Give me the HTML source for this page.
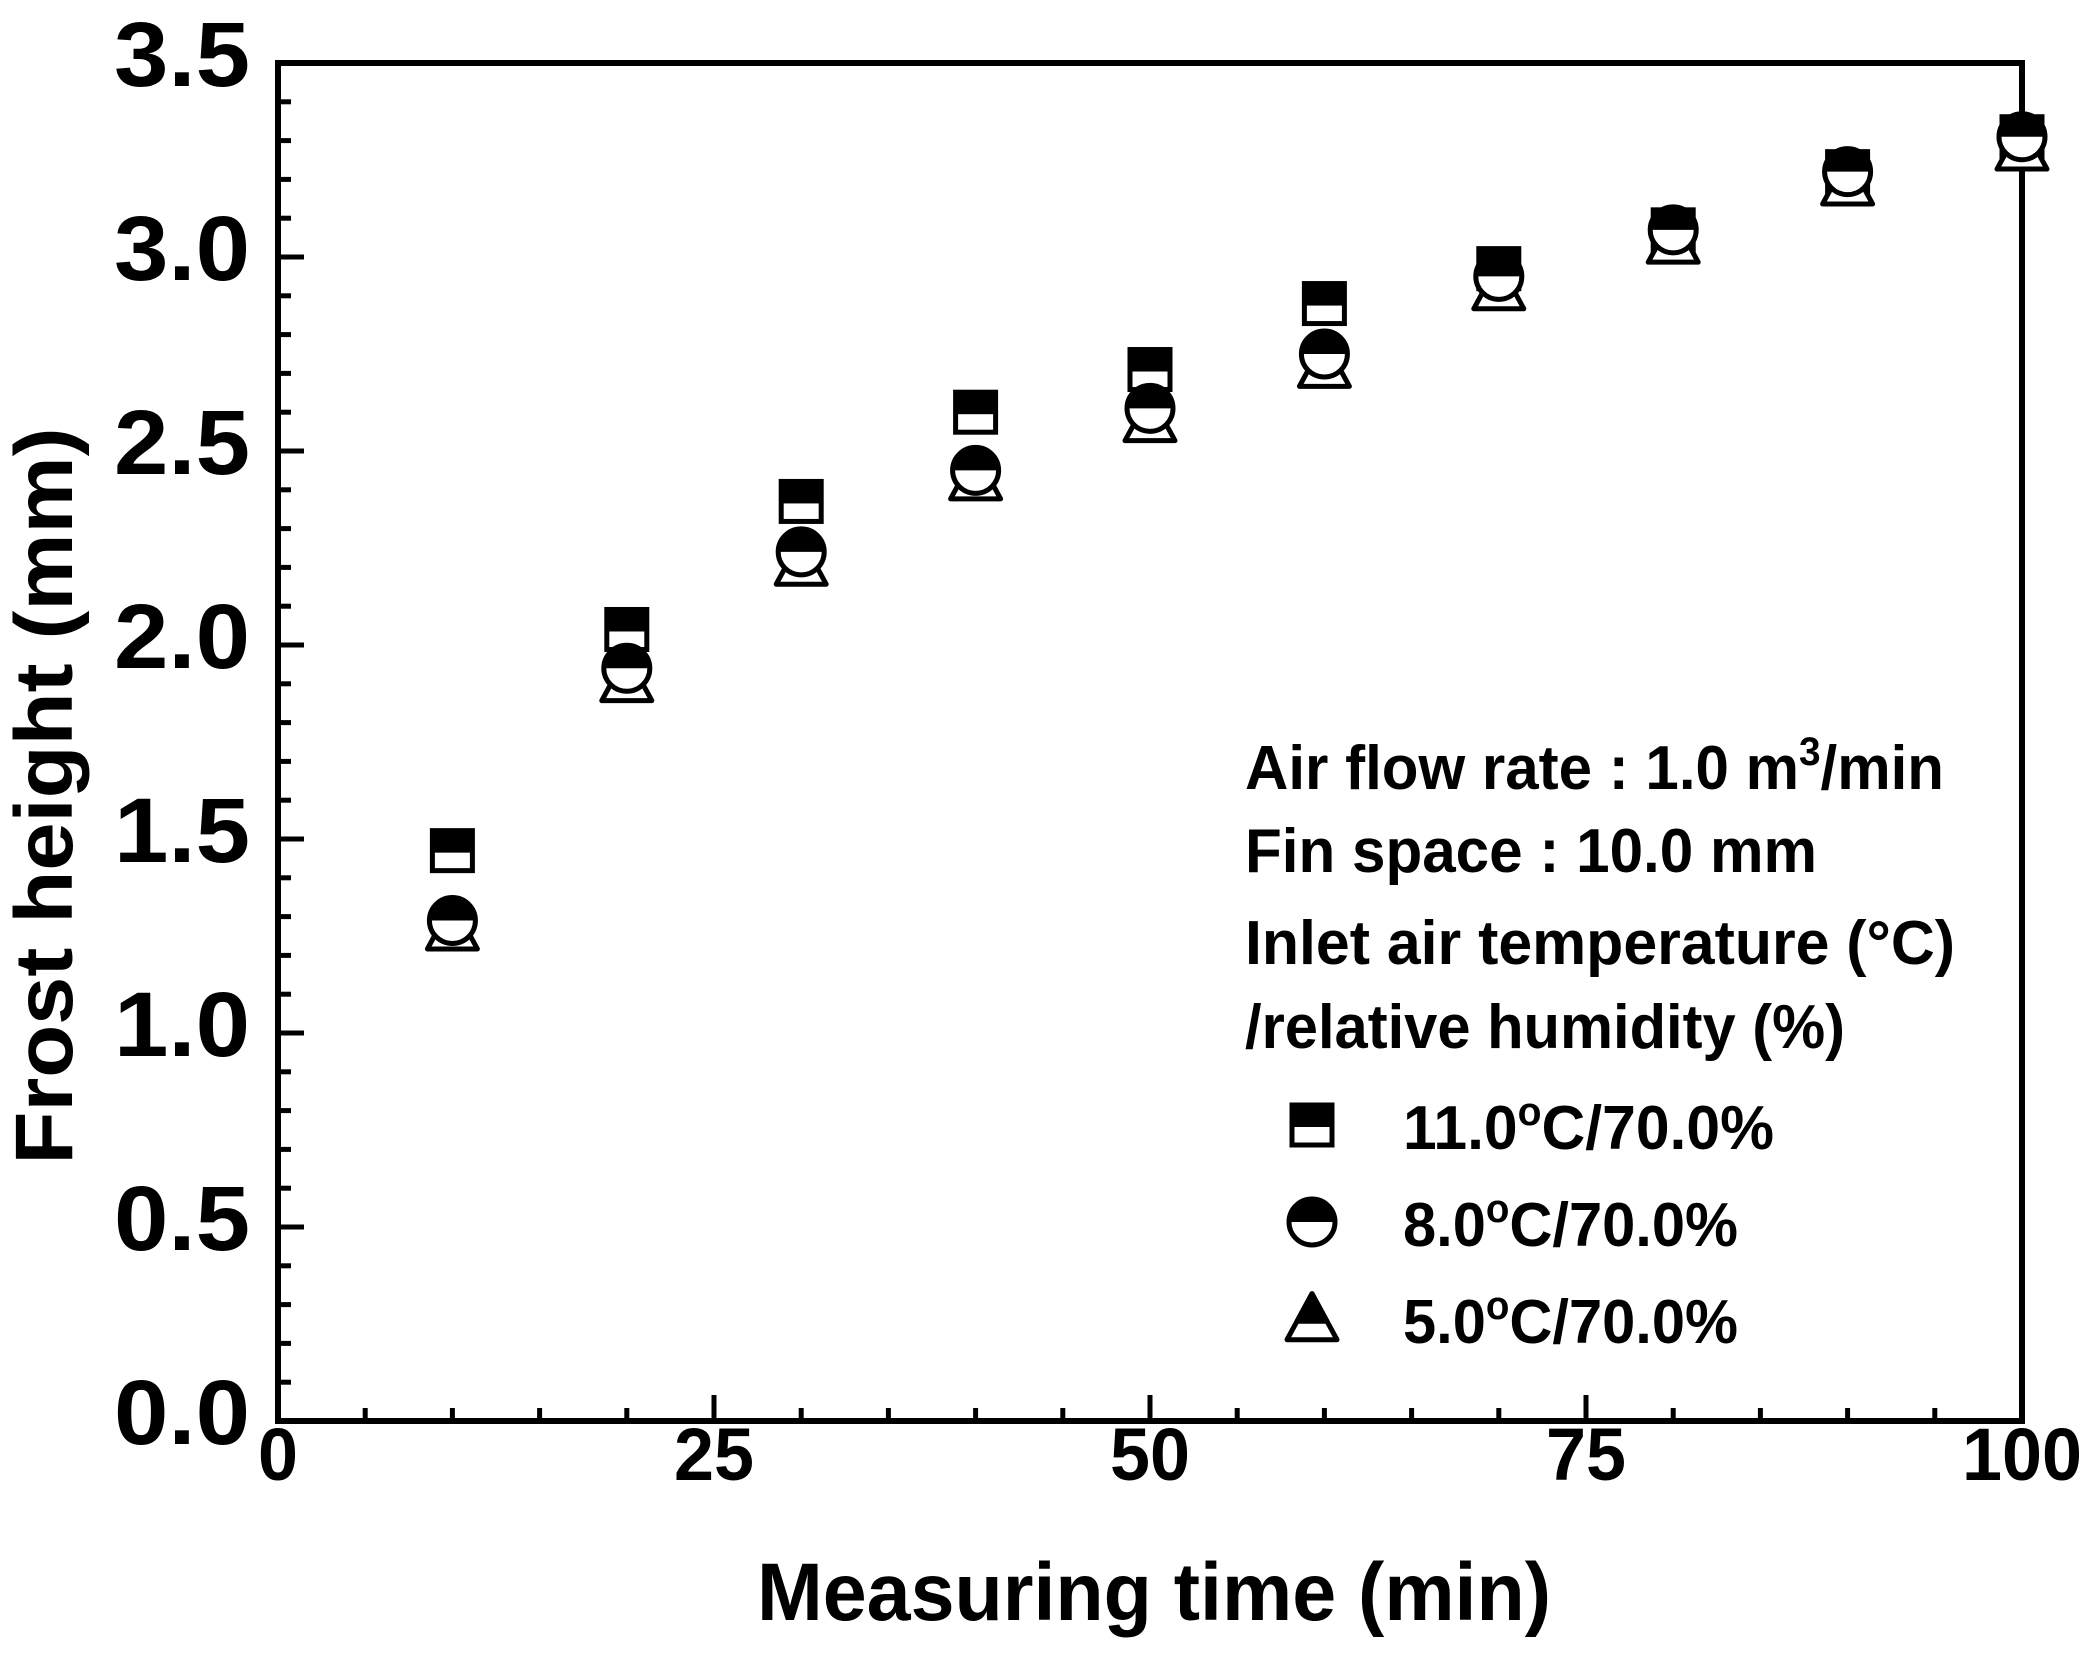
<!DOCTYPE html>
<html><head><meta charset="utf-8"><style>
html,body{margin:0;padding:0;background:#fff}
svg{display:block}
text{font-family:"Liberation Sans",Arial,sans-serif;font-weight:bold;fill:#000}
</style></head><body>
<svg id="chart" width="2100" height="1654" viewBox="0 0 2100 1654" xmlns="http://www.w3.org/2000/svg">
<g id="axes"></g>
<g id="marks"></g>
<text x="1154" y="1620" font-size="82" text-anchor="middle" textLength="794" lengthAdjust="spacingAndGlyphs">Measuring time (min)</text>
<text transform="translate(72,796) rotate(-90)" font-size="82" text-anchor="middle" textLength="737" lengthAdjust="spacingAndGlyphs">Frost height (mm)</text>
<g>
<text x="1245" y="789" font-size="62" textLength="699" lengthAdjust="spacingAndGlyphs">Air flow rate : 1.0 m<tspan dy="-24" font-size="40">3</tspan><tspan dy="24">/min</tspan></text>
<text x="1245" y="872" font-size="62" textLength="572" lengthAdjust="spacingAndGlyphs">Fin space : 10.0 mm</text>
<text x="1245" y="964" font-size="62" textLength="710" lengthAdjust="spacingAndGlyphs">Inlet air temperature (°C)</text>
<text x="1245" y="1048" font-size="62" textLength="600" lengthAdjust="spacingAndGlyphs">/relative humidity (%)</text>
</g>
<g id="legend"></g>
</svg>
<script>
const times = [10,20,30,40,50,60,70,80,90,100];
const series11 = [1.47,2.04,2.37,2.60,2.71,2.88,2.97,3.07,3.22,3.31];
const series8 = [1.29,1.94,2.24,2.45,2.61,2.75,2.95,3.07,3.22,3.31];
const series5 = [1.27,1.91,2.21,2.43,2.58,2.72,2.92,3.04,3.19,3.28];
const seriesLabels = ["11.0","8.0","5.0"];
const xTicks = [0,25,50,75,100];
const yTicks = [0.0,0.5,1.0,1.5,2.0,2.5,3.0,3.5];

const L=278,R=2022,T=63,B=1421;
const xs=v=>L+(v/100)*(R-L);
const ys=v=>B-(v/3.5)*(B-T);
const NS="http://www.w3.org/2000/svg";
function mk(tag,attrs,parent){const e=document.createElementNS(NS,tag);for(const k in attrs)e.setAttribute(k,attrs[k]);parent.appendChild(e);return e;}
const axes=document.getElementById('axes');
for(let i=0;i<=20;i++){const v=i*5;const len=(v%25===0)?26:13;
 const t=mk('line',{x1:xs(v),x2:xs(v),y1:B,y2:B-len,stroke:'#000','stroke-width':5},axes);
 
 }
for(let i=0;i<=35;i++){const v=i*0.1;const len=(i%5===0)?26:13;
 const t=mk('line',{x1:L,x2:L+len,y1:ys(v),y2:ys(v),stroke:'#000','stroke-width':5},axes);
 
 }
const frame=mk('rect',{x:L,y:T,width:R-L,height:B-T,fill:'none',stroke:'#000','stroke-width':6},axes);


xTicks.forEach(v=>{const s=String(v);const t=mk('text',{x:xs(v),y:1480,'font-size':74,'text-anchor':'middle',textLength:s.length*40,lengthAdjust:'spacingAndGlyphs'},axes);t.textContent=s;
 
 });
yTicks.forEach(v=>{const t=mk('text',{x:250,y:ys(v)+23,'font-size':92,'text-anchor':'end',textLength:136,lengthAdjust:'spacingAndGlyphs'},axes);t.textContent=v.toFixed(1);
 
 });

function square(g,cx,cy){const s=40;
 mk('rect',{x:cx-s/2,y:cy-s/2,width:s,height:s,fill:'#fff',stroke:'#000','stroke-width':5},g);
 mk('rect',{x:cx-s/2,y:cy-s/2,width:s,height:s*0.55,fill:'#000'},g);}
function circle(g,cx,cy){const r=23;
 mk('circle',{cx:cx,cy:cy,r:r,fill:'#fff',stroke:'#000','stroke-width':5},g);
 mk('path',{d:`M${cx-r},${cy} A${r},${r} 0 0 1 ${cx+r},${cy} Z`,fill:'#000'},g);}
function tri(g,cx,cy){const w=50,h=46;const top=cy-h*0.55,bot=cy+h*0.45;
 mk('polygon',{points:`${cx},${top} ${cx-w/2},${bot} ${cx+w/2},${bot}`,fill:'#fff',stroke:'#000','stroke-width':5,'stroke-linejoin':'round'},g);
 const f=0.6,yy=top+h*f,hw=(w/2)*f;
 mk('polygon',{points:`${cx},${top} ${cx-hw},${yy} ${cx+hw},${yy}`,fill:'#000',stroke:'#000','stroke-width':5,'stroke-linejoin':'round'},g);}
const marks=document.getElementById('marks');
const order=[[series11,square,'11c'],[series5,tri,'5c'],[series8,circle,'8c']];
order.forEach(([ser,fn,nm])=>{
 times.forEach((t,i)=>{const g=mk('g',{},marks);
  
  
  fn(g,xs(t),ys(ser[i]));});
});
const leg=document.getElementById('legend');
const legY=[1125,1222,1319];
const legShapes=[square,circle,tri];
const legW=[371,335,335];
seriesLabels.forEach((lab,i)=>{
 const g=mk('g',{},leg);
 
 
 legShapes[i](g,1312,legY[i]);
 const t=mk('text',{x:1403,y:legY[i]+24,'font-size':62,textLength:legW[i],lengthAdjust:'spacingAndGlyphs'},g);
 t.innerHTML=lab+'<tspan dy="-24" font-size="40">o</tspan><tspan dy="24">C/70.0%</tspan>';
});
</script>
</body></html>
